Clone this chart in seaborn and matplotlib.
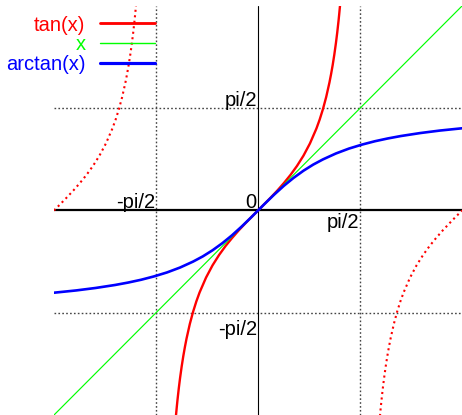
import matplotlib
matplotlib.use("Agg")
import matplotlib.pyplot as plt
import seaborn as sns
import numpy as np

# ---- data ----
tan_mid_x = [-1.265, -1.25, -1.24, -1.22, -1.2, -1.175, -1.15, -1.125, -1.1, -1.05, -1.0, -0.95, -0.9,
             -0.8, -0.7, -0.6, -0.5, -0.4, -0.3, -0.2, -0.1, 0.0, 0.1, 0.2, 0.3, 0.4, 0.5, 0.6, 0.7,
             0.8, 0.9, 0.95, 1.0, 1.05, 1.1, 1.125, 1.15, 1.175, 1.2, 1.22, 1.24, 1.25, 1.265]
tan_mid_y = [-3.168, -3.010, -2.912, -2.732, -2.572, -2.393, -2.234, -2.093, -1.965, -1.743, -1.557,
             -1.398, -1.260, -1.030, -0.842, -0.684, -0.546, -0.423, -0.309, -0.203, -0.100, 0.0,
             0.100, 0.203, 0.309, 0.423, 0.546, 0.684, 0.842, 1.030, 1.260, 1.398, 1.557, 1.743,
             1.965, 2.093, 2.234, 2.393, 2.572, 2.732, 2.912, 3.010, 3.168]

tan_left_x = [-3.142, -3.042, -2.942, -2.842, -2.742, -2.642, -2.542, -2.442, -2.342, -2.242, -2.192,
              -2.142, -2.092, -2.042, -2.017, -1.992, -1.967, -1.942, -1.922, -1.902, -1.892, -1.877]
tan_left_y = [0.0, 0.100, 0.203, 0.309, 0.423, 0.546, 0.684, 0.842, 1.030, 1.260, 1.398, 1.557,
              1.743, 1.965, 2.093, 2.234, 2.393, 2.572, 2.732, 2.912, 3.010, 3.168]

tan_right_x = [1.877, 1.892, 1.902, 1.922, 1.942, 1.967, 1.992, 2.017, 2.042, 2.092, 2.142, 2.192,
               2.242, 2.342, 2.442, 2.542, 2.642, 2.742, 2.842, 2.942, 3.042, 3.142]
tan_right_y = [-3.168, -3.010, -2.912, -2.732, -2.572, -2.393, -2.234, -2.093, -1.965, -1.743, -1.557,
               -1.398, -1.260, -1.030, -0.842, -0.684, -0.546, -0.423, -0.309, -0.203, -0.100, 0.0]

ident_x = [-3.142, 3.142]
ident_y = [-3.142, 3.142]

atan_x = [-3.142, -2.8, -2.5, -2.2, -2.0, -1.8, -1.6, -1.4, -1.2, -1.0, -0.85, -0.7, -0.55, -0.4, -0.25,
          -0.1, 0.0, 0.1, 0.25, 0.4, 0.55, 0.7, 0.85, 1.0, 1.2, 1.4, 1.6, 1.8, 2.0, 2.2, 2.5, 2.8, 3.142]
atan_y = [-1.263, -1.228, -1.190, -1.144, -1.107, -1.064, -1.012, -0.951, -0.876, -0.785, -0.705,
          -0.611, -0.503, -0.381, -0.245, -0.100, 0.0, 0.100, 0.245, 0.381, 0.503, 0.611, 0.705,
          0.785, 0.876, 0.951, 1.012, 1.064, 1.107, 1.144, 1.190, 1.228, 1.263]

grid_vals = [-np.pi / 2, np.pi / 2]
series_labels = ["tan(x)", "x", "arctan(x)"]

# ---- style ----
sns.set_theme(style="white")
plt.rcParams["font.family"] = ["Liberation Sans", "DejaVu Sans"]
plt.rcParams["font.size"] = 14.5

W, H = 462, 415
fig = plt.figure(figsize=(W / 100, H / 100), dpi=100)
ax = fig.add_axes([54 / W, 0.0, 408 / W, 409 / H])
ax.set_xlim(-np.pi, np.pi)
ax.set_ylim(-np.pi, np.pi)
for s in ax.spines.values():
    s.set_visible(False)

ax.set_xticks(grid_vals)
ax.set_yticks(grid_vals)
ax.tick_params(length=0, labelbottom=False, labelleft=False)
ax.grid(True, color="#444444", linewidth=1.0, linestyle=(0, (1.2, 1.6)))
ax.set_axisbelow(True)

ax.axhline(0, color="black", linewidth=1.6, zorder=1.5)
ax.axvline(0, color="black", linewidth=0.8, zorder=1.5)

sns.lineplot(x=tan_mid_x, y=tan_mid_y, sort=False, estimator=None, color="#ff0000",
             linewidth=1.7, ax=ax, label=series_labels[0], zorder=3)
sns.lineplot(x=tan_left_x, y=tan_left_y, sort=False, estimator=None, color="#ff0000",
             linewidth=1.5, linestyle=":", ax=ax, legend=False, zorder=3)
sns.lineplot(x=tan_right_x, y=tan_right_y, sort=False, estimator=None, color="#ff0000",
             linewidth=1.5, linestyle=":", ax=ax, legend=False, zorder=3)
sns.lineplot(x=ident_x, y=ident_y, sort=False, estimator=None, color="#00ff00",
             linewidth=0.85, ax=ax, label=series_labels[1], zorder=3)
sns.lineplot(x=atan_x, y=atan_y, sort=False, estimator=None, color="#0000ff",
             linewidth=1.9, ax=ax, label=series_labels[2], zorder=4)

# axis labels placed like the reference
lab_kw = dict(textcoords="offset pixels", ha="right", va="baseline", color="black",
              fontsize=14.5, annotation_clip=False)
ax.annotate("pi/2", xy=(0, grid_vals[1]), xytext=(-1, 2), **lab_kw)
ax.annotate("-pi/2", xy=(0, grid_vals[0]), xytext=(-1, -22), **lab_kw)
ax.annotate("-pi/2", xy=(grid_vals[0], 0), xytext=(-1, 3), **lab_kw)
ax.annotate("0", xy=(0, 0), xytext=(-2, 3), **lab_kw)
ax.annotate("pi/2", xy=(grid_vals[1], 0), xytext=(-1, -17), **lab_kw)

leg = ax.legend(loc="upper right", bbox_to_anchor=(155 / W, 1 - 15.5 / H),
                bbox_transform=fig.transFigure, frameon=False, markerfirst=False,
                borderpad=0, borderaxespad=0, handlelength=2.75, handletextpad=0.7,
                labelspacing=0.04, labelcolor="linecolor", fontsize=14.5)
for line in leg.get_lines():
    line.set_linewidth(line.get_linewidth() * 1.2)

fig.savefig("out.png", dpi=100)
